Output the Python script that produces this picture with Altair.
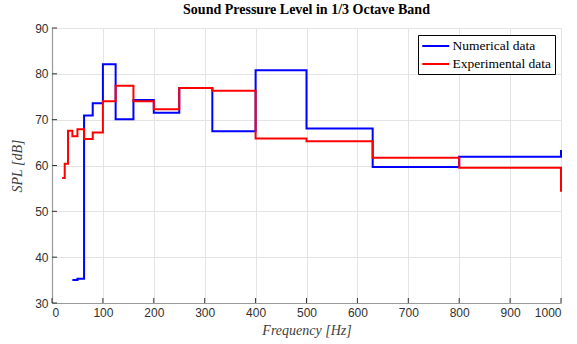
import altair as alt
import pandas as pd

# 1/3 octave band data
freq_num = [40, 50, 63, 80, 100, 125, 160, 200, 250, 315, 400, 500, 630, 800, 1000]
spl_num = [35.0, 35.3, 70.9, 73.6, 82.1, 70.1, 74.3, 71.5, 76.9, 67.5, 80.8, 68.1, 59.7, 61.9, 63.4]

freq_exp = [20, 25, 31.5, 40, 50, 63, 80, 100, 125, 160, 200, 250, 315, 400, 500, 630, 800, 1000]
spl_exp = [57.3, 60.4, 67.6, 66.4, 67.9, 65.8, 67.2, 74.0, 77.4, 74.0, 72.3, 76.9, 76.3, 65.9, 65.3, 61.7, 59.5, 54.3]

x_ticks = [0, 100, 200, 300, 400, 500, 600, 700, 800, 900, 1000]
y_ticks = [30, 40, 50, 60, 70, 80, 90]

series = ["Numerical data", "Experimental data"]
colors = ["#0000ff", "#ff0000"]

W, H = 509, 275

df_num = pd.DataFrame({"f": freq_num, "spl": spl_num, "series": series[0]})
df_exp = pd.DataFrame({"f": freq_exp, "spl": spl_exp, "series": series[1]})
df_xt = pd.DataFrame({"f": x_ticks})
df_yt = pd.DataFrame({"spl": y_ticks})

xscale = alt.Scale(domain=[0, 1000], nice=False, zero=False)
yscale = alt.Scale(domain=[30, 90], nice=False, zero=False)

x_axis = alt.Axis(
    values=x_ticks, format="d", ticks=False, grid=True, gridColor="#e4e4e4", gridWidth=1,
    domainColor="#9a9a9a", domainWidth=1.2,
    labelFont="Liberation Sans", labelFontSize=12, labelColor="#303030", labelPadding=4,
    title="Frequency [Hz]", titleFont="Liberation Serif", titleFontStyle="italic",
    titleFontWeight="normal", titleFontSize=14, titleColor="#404040", titlePadding=5,
)
y_axis = alt.Axis(
    values=y_ticks, format="d", ticks=False, grid=True, gridColor="#e4e4e4", gridWidth=1,
    domainColor="#9a9a9a", domainWidth=1.2,
    labelFont="Liberation Sans", labelFontSize=12, labelColor="#303030", labelPadding=4,
    title="SPL [dB]", titleFont="Liberation Serif", titleFontStyle="italic",
    titleFontWeight="normal", titleFontSize=14, titleColor="#404040", titlePadding=10,
)

color = alt.Color(
    "series:N",
    scale=alt.Scale(domain=series, range=colors),
    legend=alt.Legend(
        orient="none", legendX=366, legendY=7, title=None,
        strokeColor="black", fillColor="white", padding=3, cornerRadius=0,
        symbolType="M-1,0H3", symbolSize=182, symbolStrokeWidth=2,
        symbolFillColor="transparent",
        labelFont="Liberation Serif", labelFontSize=13.5, labelColor="black",
        labelOffset=15.5, rowPadding=3,
    ),
)

num_line = alt.Chart(df_num).mark_line(interpolate="step-after", strokeWidth=2).encode(
    x=alt.X("f:Q", scale=xscale, axis=x_axis),
    y=alt.Y("spl:Q", scale=yscale, axis=y_axis),
    color=color,
)
exp_line = alt.Chart(df_exp).mark_line(interpolate="step-after", strokeWidth=2).encode(
    x=alt.X("f:Q", scale=xscale),
    y=alt.Y("spl:Q", scale=yscale),
    color=color,
)

xticks_layer = alt.Chart(df_xt).mark_rule(color="#303030", strokeWidth=1).encode(
    x=alt.X("f:Q", scale=xscale),
    y=alt.value(H),
    y2=alt.value(H - 5),
)
yticks_layer = alt.Chart(df_yt).mark_rule(color="#303030", strokeWidth=1).encode(
    y=alt.Y("spl:Q", scale=yscale),
    x=alt.value(0),
    x2=alt.value(5),
)

chart = alt.layer(xticks_layer, yticks_layer, num_line, exp_line).properties(
    width=W, height=H,
    title=alt.TitleParams(
        "Sound Pressure Level in 1/3 Octave Band",
        font="Liberation Serif", fontSize=14, fontWeight="bold", color="black",
        anchor="middle", offset=5,
    ),
    autosize=alt.AutoSizeParams(type="none"),
    padding={"left": 52, "top": 28, "right": 16, "bottom": 41},
).configure_view(stroke=None).configure(background="white")

chart.save("out.html", embed_options={"renderer": "svg", "actions": False})
